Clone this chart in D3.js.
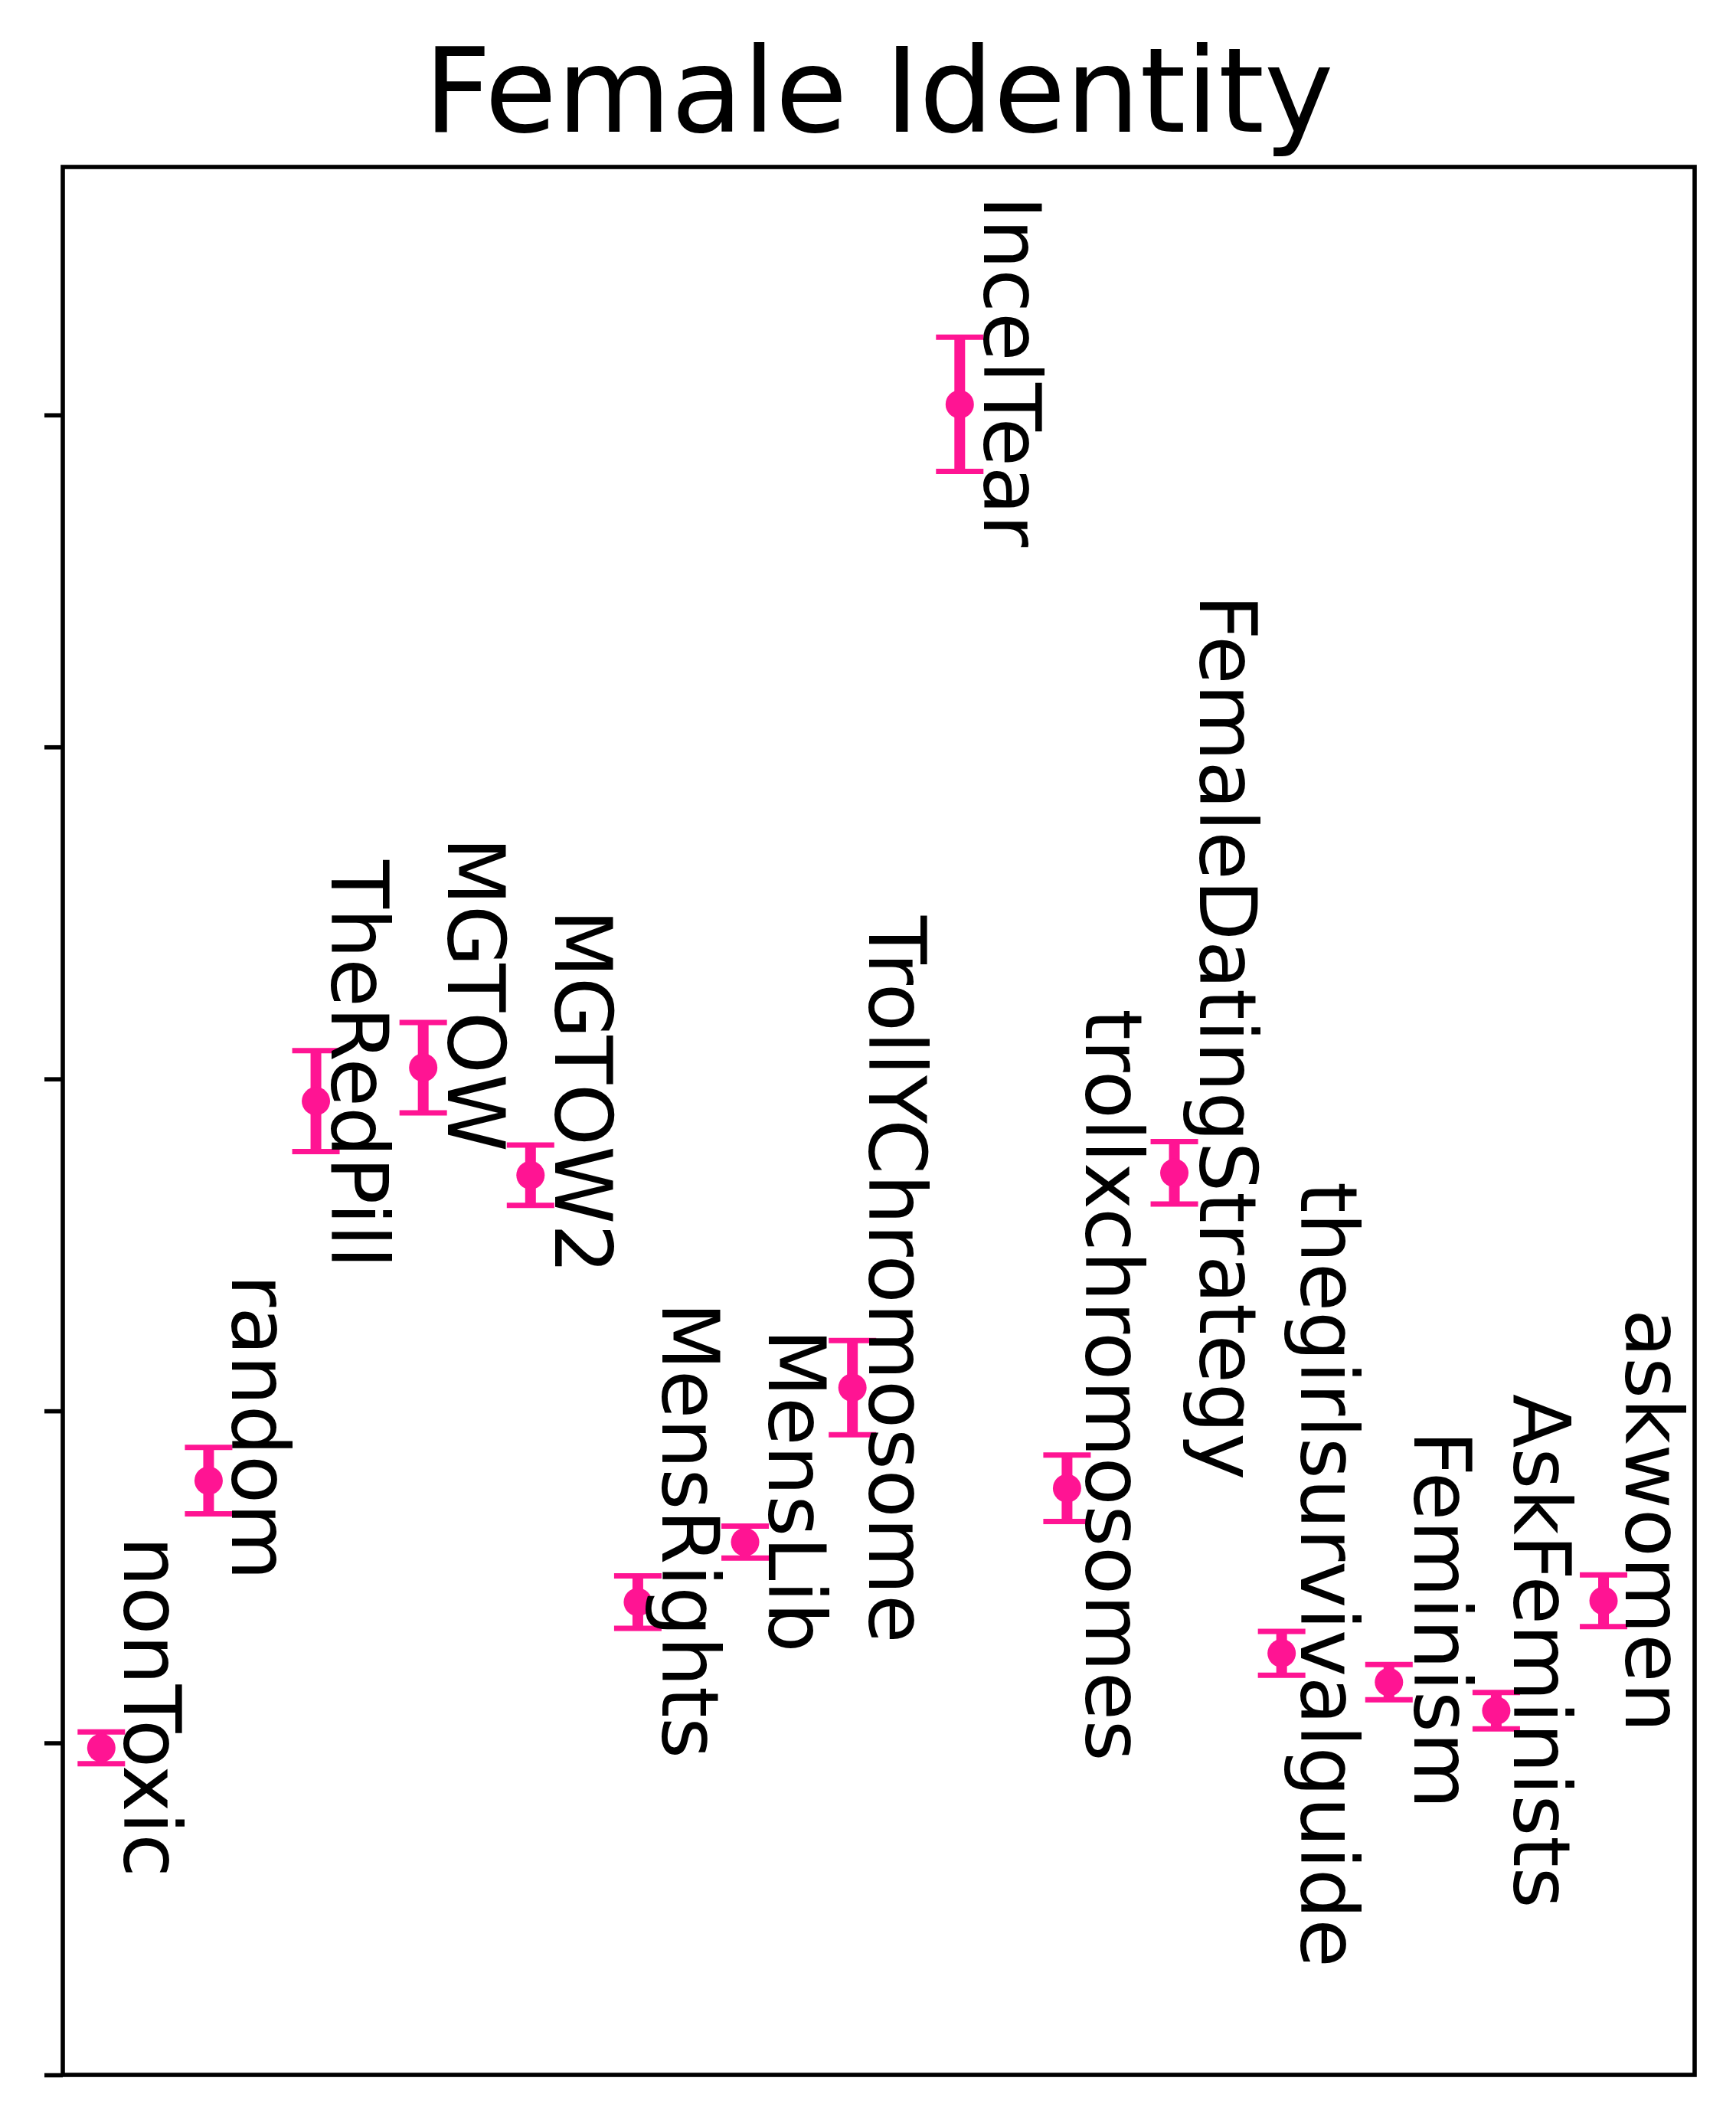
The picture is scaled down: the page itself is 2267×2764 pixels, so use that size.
<!DOCTYPE html>
<html>
<head>
<meta charset="utf-8">
<script src="https://cdn.jsdelivr.net/npm/d3@7"></script>
<style>
  html, body { margin: 0; padding: 0; background: #fff; }
  svg { display: block; }
</style>
</head>
<body>
<script>
// ---- data ----
const categories = ["nonToxic","random","TheRedPill","MGTOW","MGTOW2","MensRights","MensLib",
  "TrollYChromosome","IncelTear","trollxchromosomes","FemaleDatingStrategy",
  "thegirlsurvivalguide","Feminism","AskFeminists","askwomen"];
const means = [-0.0015, 0.0790, 0.1933, 0.2034, 0.1710, 0.0424, 0.0605,
  0.1070, 0.4032, 0.0767, 0.1717, 0.0270, 0.0183, 0.0097, 0.0428];
const errors = [0.0048, 0.0100, 0.0152, 0.0136, 0.0091, 0.0079, 0.0048,
  0.0142, 0.0202, 0.0100, 0.0094, 0.0066, 0.0053, 0.0055, 0.0078];
// label anchor points (data coordinates, as placed by the original text layout)
const labelX = [0.214, 1.216, 2.146, 3.231, 4.230, 5.229, 6.221,
  7.156, 8.227, 9.174, 10.237, 11.183, 12.239, 13.167, 14.209];
const labelY = [0.0622, 0.1411, 0.2659, 0.2728, 0.2511, 0.1328, 0.1247,
  0.2491, 0.4660, 0.2211, 0.3459, 0.1690, 0.0940, 0.1051, 0.1307];
const yTicks = [-0.1, 0.0, 0.1, 0.2, 0.3, 0.4];
const chartTitle = "Female Identity";

(function () {
  // ---- layout ----
  const W = 2267, H = 2764;
  const mLeft = 82, mRight = 2213, mTop = 218, mBottom = 2709;
  const color = "#ff1493";
  const font = "'DejaVu Sans', sans-serif";

  const svg = d3.select("body").append("svg")
    .attr("width", W).attr("height", H)
    .attr("viewBox", `0 0 ${W} ${H}`);
  svg.append("rect").attr("width", W).attr("height", H).attr("fill", "#fff");

  const x = d3.scaleLinear().domain([-0.359, 14.849]).range([mLeft, mRight]);
  const y = d3.scaleLinear().domain([-0.1, 0.4747]).range([mBottom, mTop]);

  // y axis ticks (no labels)
  const yAxis = d3.axisLeft(y).tickValues(yTicks).tickSize(24).tickFormat("");
  const gy = svg.append("g").attr("transform", `translate(${mLeft},0)`).call(yAxis);
  gy.select(".domain").remove();
  gy.selectAll(".tick line").attr("stroke", "#000").attr("stroke-width", 5.6);

  const data = categories.map((c, i) => ({
    name: c, i, m: means[i], e: errors[i], lx: labelX[i], ly: labelY[i]
  }));

  const g = svg.append("g");
  // error bars
  g.selectAll("line.bar").data(data).join("line").attr("class", "bar")
    .attr("x1", d => x(d.i)).attr("x2", d => x(d.i))
    .attr("y1", d => y(d.m - d.e)).attr("y2", d => y(d.m + d.e))
    .attr("stroke", color).attr("stroke-width", 14);
  const capHalf = 31;
  ["lo", "hi"].forEach(k => {
    g.selectAll("line.cap" + k).data(data).join("line").attr("class", "cap" + k)
      .attr("x1", d => x(d.i) - capHalf).attr("x2", d => x(d.i) + capHalf)
      .attr("y1", d => y(k === "lo" ? d.m - d.e : d.m + d.e))
      .attr("y2", d => y(k === "lo" ? d.m - d.e : d.m + d.e))
      .attr("stroke", color).attr("stroke-width", 7);
  });
  // points
  g.selectAll("circle").data(data).join("circle")
    .attr("cx", d => x(d.i)).attr("cy", d => y(d.m)).attr("r", 18.5)
    .attr("fill", color);

  // labels
  svg.append("g").selectAll("text").data(data).join("text")
    .attr("transform", d => `translate(${x(d.lx)},${y(d.ly)}) rotate(90)`)
    .attr("font-family", font).attr("font-size", 103)
    .attr("fill", "#000").attr("text-anchor", "start")
    .text(d => d.name);

  // frame
  svg.append("rect")
    .attr("x", mLeft).attr("y", mTop)
    .attr("width", mRight - mLeft).attr("height", mBottom - mTop)
    .attr("fill", "none").attr("stroke", "#000").attr("stroke-width", 5.6);

  // title
  svg.append("text")
    .attr("x", (mLeft + mRight) / 2).attr("y", 172)
    .attr("text-anchor", "middle")
    .attr("font-family", font).attr("font-size", 153)
    .attr("fill", "#000")
    .text(chartTitle);
})();
</script>
</body>
</html>
